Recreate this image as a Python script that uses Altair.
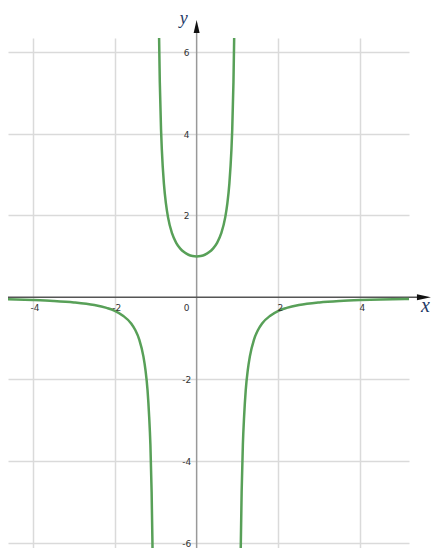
import altair as alt
import pandas as pd

# Curve values (three branches)
left_x = [-4.7, -4.0, -3.5, -3.0, -2.5, -2.2, -2.0, -1.8, -1.6, -1.5, -1.4, -1.3, -1.25, -1.2, -1.16, -1.13, -1.1, -1.08, -1.07]
left_y = [-0.047, -0.067, -0.089, -0.125, -0.19, -0.26, -0.33, -0.45, -0.64, -0.8, -1.04, -1.45, -1.78, -2.27, -2.92, -3.6, -4.76, -6.0, -6.7]

mid_x = [-0.93, -0.92, -0.9, -0.87, -0.85, -0.8, -0.75, -0.7, -0.6, -0.5, -0.4, -0.3, -0.2, -0.1, 0.0,
         0.1, 0.2, 0.3, 0.4, 0.5, 0.6, 0.7, 0.75, 0.8, 0.85, 0.87, 0.9, 0.92, 0.93]
mid_y = [7.4, 6.5, 5.26, 4.1, 3.6, 2.78, 2.29, 1.96, 1.56, 1.33, 1.19, 1.1, 1.04, 1.01, 1.0,
         1.01, 1.04, 1.1, 1.19, 1.33, 1.56, 1.96, 2.29, 2.78, 3.6, 4.1, 5.26, 6.5, 7.4]

right_x = [1.07, 1.08, 1.1, 1.13, 1.16, 1.2, 1.25, 1.3, 1.4, 1.5, 1.6, 1.8, 2.0, 2.2, 2.5, 3.0, 3.5, 4.0, 4.5, 5.3]
right_y = [-6.7, -6.0, -4.76, -3.6, -2.92, -2.27, -1.78, -1.45, -1.04, -0.8, -0.64, -0.45, -0.33, -0.26, -0.19, -0.125, -0.089, -0.067, -0.052, -0.037]

x_ticks = [-4, -2, 2, 4]
y_ticks = [-6, -4, -2, 2, 4, 6]
grid_x = [-4, -2, 2, 4]
grid_y = [-6, -4, -2, 2, 4, 6]

X_DOMAIN = [-4.61, 5.19]
Y_DOMAIN = [-6.13, 6.34]

rows = []
for b, xs_, ys_ in (("L", left_x, left_y), ("M", mid_x, mid_y), ("R", right_x, right_y)):
    for i, (a, c) in enumerate(zip(xs_, ys_)):
        rows.append({"x": a, "y": c, "branch": b, "i": i})
curve_df = pd.DataFrame(rows)

xs = alt.Scale(domain=X_DOMAIN, nice=False, zero=False)
ys = alt.Scale(domain=Y_DOMAIN, nice=False, zero=False)

xax = alt.Axis(values=grid_x, grid=True, gridColor="#dadada", gridWidth=1.5,
               labels=False, ticks=False, domain=False, title=None)
yax = alt.Axis(values=grid_y, grid=True, gridColor="#dadada", gridWidth=1.5,
               labels=False, ticks=False, domain=False, title=None)

grid_layer = alt.Chart(pd.DataFrame({"x": [0], "y": [0]})).mark_point(opacity=0).encode(
    x=alt.X("x:Q", scale=xs, axis=xax),
    y=alt.Y("y:Q", scale=ys, axis=yax),
)

yaxis_line = alt.Chart(pd.DataFrame({"x": [0], "y": [-6.5], "y2": [6.6]})).mark_rule(
    color="#999999", strokeWidth=1.5).encode(x="x:Q", y="y:Q", y2="y2:Q")
xaxis_line = alt.Chart(pd.DataFrame({"x": [-4.62], "x2": [5.5], "y": [0]})).mark_rule(
    color="#555555", strokeWidth=1.5).encode(x="x:Q", x2="x2:Q", y="y:Q")

arrow_up = alt.Chart(pd.DataFrame({"x": [0], "y": [6.62]})).mark_point(
    shape="M-0.46,1 L0,-1 L0.46,1 Z", filled=True, color="#111111", size=169, opacity=1
).encode(x="x:Q", y="y:Q")
arrow_right = alt.Chart(pd.DataFrame({"x": [5.555], "y": [0]})).mark_point(
    shape="M-1,-0.43 L1,0 L-1,0.43 Z", filled=True, color="#111111", size=196, opacity=1
).encode(x="x:Q", y="y:Q")

curve = alt.Chart(curve_df).mark_line(color="#58a058", strokeWidth=2.5, clip=True,
                                      interpolate="monotone").encode(
    x=alt.X("x:Q", scale=xs), y=alt.Y("y:Q", scale=ys), detail="branch:N", order="i:Q")

xlab = alt.Chart(pd.DataFrame({"x": x_ticks, "y": [0] * len(x_ticks),
                               "t": [str(v) for v in x_ticks]})).mark_text(
    fontSize=9, font="DejaVu Sans", color="#333333", dx=2, dy=11).encode(
    x="x:Q", y="y:Q", text="t:N")
ylab = alt.Chart(pd.DataFrame({"x": [0] * len(y_ticks), "y": y_ticks,
                               "t": [str(v) for v in y_ticks]})).mark_text(
    fontSize=9, font="DejaVu Sans", color="#333333", dx=-10, dy=1).encode(
    x="x:Q", y="y:Q", text="t:N")
zlab = alt.Chart(pd.DataFrame({"x": [0], "y": [0], "t": ["0"]})).mark_text(
    fontSize=9, font="DejaVu Sans", color="#333333", dx=-10, dy=11).encode(
    x="x:Q", y="y:Q", text="t:N")

name_x = alt.Chart(pd.DataFrame({"x": [5.70], "y": [0], "t": ["x"]})).mark_text(
    fontSize=20, font="Liberation Serif", fontStyle="italic", color="#1f3a66",
    align="right", baseline="alphabetic", dy=15).encode(
    x="x:Q", y="y:Q", text="t:N")
name_y = alt.Chart(pd.DataFrame({"x": [0], "y": [6.694], "t": ["y"]})).mark_text(
    fontSize=18, font="Liberation Serif", fontStyle="italic", color="#1f3a66",
    baseline="alphabetic", dx=-13).encode(
    x="x:Q", y="y:Q", text="t:N")

chart = alt.layer(grid_layer, yaxis_line, xaxis_line, curve, xlab, ylab, zlab,
                  arrow_up, arrow_right, name_x, name_y).properties(
    width=401, height=510,
    autosize=alt.AutoSizeParams(type="none"),
    padding={"left": 0, "top": 30, "right": 22, "bottom": 0},
).configure_view(strokeWidth=0)

chart.save("out.html", embed_options={"renderer": "svg", "actions": False})
